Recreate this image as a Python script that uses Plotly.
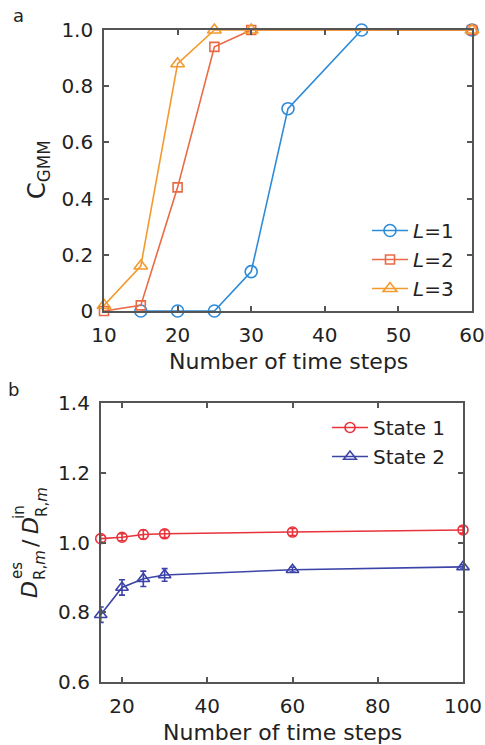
import plotly.graph_objects as go

W, H = 485, 745

# ---------------- data: panel a ----------------
a_x_L1 = [15, 20, 25, 30, 35, 45, 60]
a_y_L1 = [0, 0, 0, 0.14, 0.72, 1.0, 1.0]
a_x_L2 = [10, 15, 20, 25, 30, 60]
a_y_L2 = [0, 0.02, 0.44, 0.94, 1.0, 1.0]
a_x_L3 = [10, 15, 20, 25, 30, 60]
a_y_L3 = [0.02, 0.16, 0.88, 1.0, 1.0, 1.0]
a_xticks = [10, 20, 30, 40, 50, 60]
a_yticks = [0, 0.2, 0.4, 0.6, 0.8, 1.0]
a_yticklabels = ["0", "0.2", "0.4", "0.6", "0.8", "1.0"]

# ---------------- data: panel b ----------------
b_x = [15, 20, 25, 30, 60, 100]
b_y_s1 = [1.011, 1.015, 1.023, 1.025, 1.030, 1.036]
b_e_s1 = [0.010, 0.010, 0.013, 0.011, 0.010, 0.009]
b_y_s2 = [0.793, 0.871, 0.896, 0.907, 0.922, 0.930]
b_e_s2 = [0.022, 0.022, 0.022, 0.018, 0.007, 0.006]
b_xticks = [20, 40, 60, 80, 100]
b_yticks = [0.6, 0.8, 1.0, 1.2, 1.4]

C_L1, C_L2, C_L3 = "#2E8BD8", "#EA6A45", "#F29A2E"
C_S1, C_S2 = "#E8323C", "#3C44A8"
FONT = "DejaVu Sans"
TXT = "#222222"
AX = "#555555"


def px(x):
    return x / W


def py(y):
    return 1 - y / H


fig = go.Figure()

# panel a traces
for xs, ys, col, sym, sz, name in [
    (a_x_L1, a_y_L1, C_L1, "circle-open", 12, "<i>L</i>=1"),
    (a_x_L2, a_y_L2, C_L2, "square-open", 9, "<i>L</i>=2"),
    (a_x_L3, a_y_L3, C_L3, "triangle-up-open", 12, "<i>L</i>=3"),
]:
    fig.add_trace(go.Scatter(
        x=xs, y=ys, mode="lines+markers", name=name,
        line=dict(color=col, width=1.6),
        marker=dict(symbol=sym, size=sz, color=col, line=dict(width=1.6, color=col)),
        xaxis="x", yaxis="y", legend="legend", cliponaxis=False,
    ))

# panel b traces
for ys, es, col, sym, sz, name in [
    (b_y_s1, b_e_s1, C_S1, "circle-open", 10, "State 1"),
    (b_y_s2, b_e_s2, C_S2, "triangle-up-open", 11, "State 2"),
]:
    fig.add_trace(go.Scatter(
        x=b_x, y=ys, mode="lines+markers", name=name,
        error_y=dict(type="data", array=es, visible=True, color=col, thickness=1.6, width=3),
        line=dict(color=col, width=1.6),
        marker=dict(symbol=sym, size=sz, color=col, line=dict(width=1.6, color=col)),
        xaxis="x2", yaxis="y2", legend="legend2", cliponaxis=False,
    ))

axis_common = dict(
    showline=True, linecolor=AX, linewidth=1.6, mirror="allticks",
    ticks="inside", ticklen=5, tickwidth=1.5, tickcolor=AX,
    showgrid=False, zeroline=False, automargin=False,
    tickfont=dict(family=FONT, size=20, color=TXT),
)

fig.update_layout(
    width=W, height=H,
    margin=dict(l=0, r=0, t=0, b=0, autoexpand=False),
    paper_bgcolor="white", plot_bgcolor="white",
    font=dict(family=FONT, size=20, color=TXT),
    showlegend=True,
    xaxis=dict(domain=[px(104), px(472)], anchor="y", range=[10, 60],
               tickvals=a_xticks, ticklabelstandoff=5, **axis_common),
    yaxis=dict(domain=[py(311), py(30)], anchor="x", range=[0, 1.0],
               tickvals=a_yticks, ticktext=a_yticklabels, ticklabelstandoff=5, **axis_common),
    xaxis2=dict(domain=[px(100.7), px(463)], anchor="y2", range=[15, 100],
                tickvals=b_xticks, ticklabelstandoff=5, **axis_common),
    yaxis2=dict(domain=[py(682), py(403)], anchor="x2", range=[0.6, 1.4],
                tickvals=b_yticks, tickformat=".1f", ticklabelstandoff=5, **axis_common),
    legend=dict(x=px(367), y=py(211), xanchor="left", yanchor="top",
                bgcolor="rgba(0,0,0,0)", font=dict(family=FONT, size=20, color=TXT),
                tracegroupgap=0, itemwidth=36),
    legend2=dict(x=px(327), y=py(408), xanchor="left", yanchor="top",
                 bgcolor="rgba(0,0,0,0)", font=dict(family=FONT, size=20, color=TXT),
                 tracegroupgap=0, itemwidth=36),
)

ann = []


def add_text(text, x, y, size, angle=0):
    ann.append(dict(text=text, x=px(x), y=py(y), xref="paper", yref="paper",
                    xanchor="center", yanchor="middle", showarrow=False,
                    textangle=angle, font=dict(family=FONT, size=size, color=TXT)))


# panel labels
add_text("a", 18, 16, 18)
add_text("b", 13, 389, 18)
# axis titles
add_text("Number of time steps", 288, 362, 22)
add_text("Number of time steps", 282, 732, 22)
add_text("C<sub>GMM</sub>", 38, 170, 24, angle=-90)
# stacked y title for panel b
add_text("<i>D</i>", 29, 590, 22, angle=-90)
add_text("es", 17, 571, 15, angle=-90)
add_text("R,<i>m</i>", 40, 565, 15, angle=-90)
add_text("/", 30, 543, 22, angle=-90)
add_text("<i>D</i>", 30, 526, 22, angle=-90)
add_text("in", 19, 512, 15, angle=-90)
add_text("R,<i>m</i>", 42, 502, 15, angle=-90)

fig.update_layout(annotations=ann)

fig.write_html(
    "out.html",
    config={"displayModeBar": False},
    post_script="document.body.style.margin='0';document.body.style.overflow='hidden';",
)
